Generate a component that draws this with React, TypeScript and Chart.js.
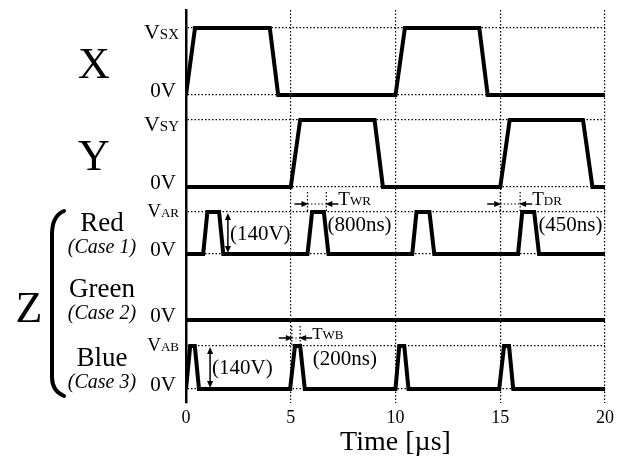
import React, { useEffect, useRef } from 'react';
import { Chart, registerables } from 'chart.js';
Chart.register(...registerables);

const SERIF = '"Liberation Serif", "Times New Roman", serif';

// x axis
const xTicks = [0, 5, 10, 15, 20];
const xTitle = 'Time [µs]';

// lanes (stacked traces)
const laneNames = ['X', 'Y', 'Red', 'Green', 'Blue'];
const laneCases = ['', '', '(Case 1)', '(Case 2)', '(Case 3)'];
const laneHighSub = ['SX', 'SY', 'AR', '', 'AB'];
const laneBase = [30.8, 21.6, 14.9, 8.3, 1.4];
const laneAmp = [6.7, 6.7, 4.2, 0, 4.3];

// waveforms: times [µs] and logic levels (0 = 0V, 1 = high)
const xTimes = [0, 0.43, 4.0, 4.4, 10.0, 10.45, 14.0, 14.4, 20];
const xLevels = [0, 1, 1, 0, 0, 1, 1, 0, 0];
const yTimes = [0, 5.0, 5.45, 9.0, 9.4, 15.0, 15.45, 18.95, 19.4, 20];
const yLevels = [0, 0, 1, 1, 0, 0, 1, 1, 0, 0];
const redTimes = [0, 0.82, 1.02, 1.58, 1.78, 5.8, 6.02, 6.58, 6.8, 10.8, 11.0, 11.62, 11.85, 15.85, 16.05, 16.62, 16.85, 20];
const redLevels = [0, 0, 1, 1, 0, 0, 1, 1, 0, 0, 1, 1, 0, 0, 1, 1, 0, 0];
const greenTimes = [0, 20];
const greenLevels = [0, 0];
const blueTimes = [0, 0.2, 0.42, 0.62, 4.97, 5.2, 5.45, 5.67, 10.0, 10.18, 10.42, 10.62, 14.95, 15.18, 15.42, 15.62, 20];
const blueLevels = [0, 1, 1, 0, 0, 1, 1, 0, 0, 1, 1, 0, 0, 1, 1, 0, 0];

// annotations
const voltAnnotLane = [2, 4];
const voltAnnotTime = [2.0, 1.15];
const voltAnnotText = ['(140V)', '(140V)'];
const timeAnnotLane = [2, 2, 4];
const timeAnnotStart = [5.8, 15.0, 5.05];
const timeAnnotEnd = [6.7, 15.95, 5.45];
const timeAnnotSub = ['WR', 'DR', 'WB'];
const timeAnnotNote = ['(800ns)', '(450ns)', '(200ns)'];
const timeAnnotNoteTime = [6.75, 16.82, 6.05];

const lanes = [
  { t: xTimes, l: xLevels },
  { t: yTimes, l: yLevels },
  { t: redTimes, l: redLevels },
  { t: greenTimes, l: greenLevels },
  { t: blueTimes, l: blueLevels },
];

const gridLevels: number[] = [];
laneBase.forEach((b, i) => {
  gridLevels.push(b);
  if (laneAmp[i] > 0) gridLevels.push(b + laneAmp[i]);
});

function drawSub(ctx: CanvasRenderingContext2D, main: string, sub: string, x: number, y: number, ms: number, ss: number, align: 'left' | 'right') {
  ctx.font = `${ms}px ${SERIF}`;
  const w1 = ctx.measureText(main).width;
  ctx.font = `${ss}px ${SERIF}`;
  const w2 = ctx.measureText(sub).width;
  const x0 = align === 'right' ? x - w1 - w2 : x;
  ctx.textAlign = 'left';
  ctx.textBaseline = 'alphabetic';
  ctx.font = `${ms}px ${SERIF}`;
  ctx.fillText(main, x0, y);
  ctx.font = `${ss}px ${SERIF}`;
  ctx.fillText(sub, x0 + w1, y);
}

function head(ctx: CanvasRenderingContext2D, x: number, y: number, dx: number, dy: number) {
  const L = 7, W = 3;
  ctx.beginPath();
  ctx.moveTo(x, y);
  ctx.lineTo(x - dx * L - dy * W, y - dy * L + dx * W);
  ctx.lineTo(x - dx * L + dy * W, y - dy * L - dx * W);
  ctx.closePath();
  ctx.fill();
}

const labelPlugin = {
  id: 'labels',
  afterDraw(chart: any) {
    const ctx: CanvasRenderingContext2D = chart.ctx;
    const xs = chart.scales.x;
    const ys = chart.scales.y;
    ctx.save();
    ctx.fillStyle = '#000';
    ctx.strokeStyle = '#000';

    laneNames.forEach((name, i) => {
      const low = ys.getPixelForValue(laneBase[i]);
      const high = ys.getPixelForValue(laneBase[i] + laneAmp[i]);
      // 0V label
      ctx.font = `21px ${SERIF}`;
      ctx.textAlign = 'right';
      ctx.textBaseline = 'alphabetic';
      ctx.fillText('0V', 176, low + 2);
      // V label
      if (laneHighSub[i]) {
        const big = i < 2;
        drawSub(ctx, 'V', laneHighSub[i], 179, high + (big ? 11 : 5), big ? 22 : 19, big ? 15 : 13, 'right');
      }
      // lane names
      ctx.textAlign = 'center';
      if (i < 2) {
        ctx.font = `44px ${SERIF}`;
        ctx.fillText(name, 94, low - 17);
      } else {
        ctx.font = `27px ${SERIF}`;
        ctx.fillText(name, 102, low - 23);
        ctx.font = `italic 20px ${SERIF}`;
        ctx.fillText(laneCases[i], 102, low - 1);
      }
    });

    // Z and brace
    ctx.font = `44px ${SERIF}`;
    ctx.textAlign = 'center';
    ctx.fillText('Z', 29, 322);
    ctx.lineWidth = 4;
    ctx.lineCap = 'round';
    ctx.beginPath();
    ctx.moveTo(64, 211);
    ctx.quadraticCurveTo(52, 216, 52, 234);
    ctx.lineTo(52, 377);
    ctx.quadraticCurveTo(52, 391, 64, 396);
    ctx.stroke();
    ctx.lineCap = 'butt';

    // voltage annotations
    voltAnnotLane.forEach((ln, k) => {
      const x = xs.getPixelForValue(voltAnnotTime[k]);
      const low = ys.getPixelForValue(laneBase[ln]);
      const high = ys.getPixelForValue(laneBase[ln] + laneAmp[ln]);
      ctx.lineWidth = 1.5;
      ctx.beginPath();
      ctx.moveTo(x, high + 5);
      ctx.lineTo(x, low - 5);
      ctx.stroke();
      head(ctx, x, high + 1, 0, -1);
      head(ctx, x, low - 1, 0, 1);
      ctx.font = `21px ${SERIF}`;
      ctx.textAlign = 'left';
      ctx.textBaseline = 'middle';
      ctx.fillText(voltAnnotText[k], x + 2, (low + high) / 2 + 1);
    });

    // timing annotations
    timeAnnotLane.forEach((ln, k) => {
      const x0 = xs.getPixelForValue(timeAnnotStart[k]);
      const x1 = xs.getPixelForValue(timeAnnotEnd[k]);
      const high = ys.getPixelForValue(laneBase[ln] + laneAmp[ln]);
      const ay = high - 8;
      ctx.lineWidth = 1.2;
      ctx.setLineDash([1.5, 2]);
      ctx.beginPath();
      ctx.moveTo(x0, high - 20); ctx.lineTo(x0, high);
      ctx.moveTo(x1, high - 20); ctx.lineTo(x1, high);
      ctx.moveTo(x0, ay); ctx.lineTo(x1, ay);
      ctx.stroke();
      ctx.setLineDash([]);
      ctx.lineWidth = 1.5;
      ctx.beginPath();
      ctx.moveTo(x0 - 13, ay); ctx.lineTo(x0 - 4, ay);
      ctx.moveTo(x1 + 12, ay); ctx.lineTo(x1 + 4, ay);
      ctx.stroke();
      head(ctx, x0 + 1, ay, 1, 0);
      head(ctx, x1 - 1, ay, -1, 0);
      drawSub(ctx, 'T', timeAnnotSub[k], x1 + 12, ay + 1, ln === 4 ? 17 : 19, 13, 'left');
      ctx.font = `21px ${SERIF}`;
      ctx.textAlign = 'left';
      ctx.textBaseline = 'middle';
      ctx.fillText(timeAnnotNote[k], xs.getPixelForValue(timeAnnotNoteTime[k]), high + 13);
    });
    ctx.restore();
  },
};

export default function App() {
  const ref = useRef<HTMLCanvasElement>(null);
  useEffect(() => {
    document.body.style.margin = '0';
    if (!ref.current) return;
    const chart = new Chart(ref.current, {
      type: 'line',
      data: {
        datasets: lanes.map((ln, i) => ({
          label: laneNames[i],
          data: ln.t.map((t, k) => ({ x: t, y: laneBase[i] + laneAmp[i] * ln.l[k] })),
          borderColor: '#000',
          borderWidth: 4,
          pointRadius: 0,
          tension: 0,
          fill: false,
          borderJoinStyle: 'miter',
          borderCapStyle: 'butt',
        })),
      },
      options: {
        animation: false,
        responsive: false,
        events: [],
        layout: { padding: { left: 0, right: 13, top: 10, bottom: 0 } },
        plugins: { legend: { display: false }, tooltip: { enabled: false } },
        scales: {
          x: {
            type: 'linear',
            min: 0,
            max: 20,
            afterBuildTicks: (s: any) => { s.ticks = xTicks.map((v) => ({ value: v })); },
            afterFit: (s: any) => { s.height = 59; },
            ticks: { color: '#000', font: { family: SERIF, size: 18 }, padding: 4, maxRotation: 0 },
            title: { display: true, text: xTitle, color: '#000', font: { family: SERIF, size: 28 }, padding: { top: 0, bottom: 3 } },
            grid: {
              color: (c: any) => (c.tick && c.tick.value === 0 ? 'rgba(0,0,0,0)' : '#000'),
              lineWidth: 1.2,
              drawTicks: false,
            },
            border: { display: false, dash: [1.5, 2] },
          },
          y: {
            type: 'linear',
            min: 0,
            max: 39.3,
            afterBuildTicks: (s: any) => { s.ticks = gridLevels.map((v) => ({ value: v })); },
            afterFit: (s: any) => { s.width = 186; },
            ticks: { display: false },
            grid: { color: '#000', lineWidth: 1.2, drawTicks: false },
            border: { display: true, color: '#000', width: 2.5, dash: [1.5, 2] },
          },
        },
      },
      plugins: [labelPlugin],
    } as any);
    return () => chart.destroy();
  }, []);
  return (
    <div style={{ width: 618, height: 462, background: '#fff' }}>
      <canvas ref={ref} width={618} height={462} style={{ width: 618, height: 462, display: 'block' }} />
    </div>
  );
}
